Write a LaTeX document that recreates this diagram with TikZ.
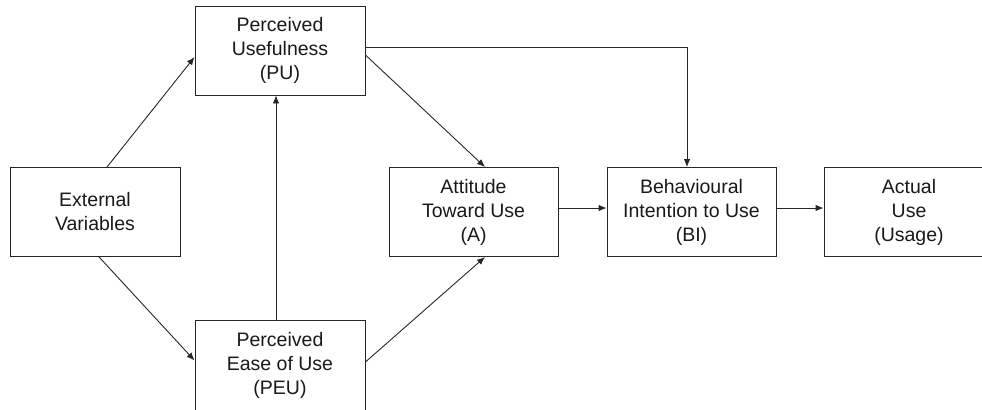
\documentclass[tikz,border=0pt]{standalone}
\usepackage{fontspec}
\setmainfont{Liberation Sans}
\usetikzlibrary{arrows.meta,positioning}

\begin{document}
\begin{tikzpicture}[
		x=1bp,y=-1bp,
		box/.style={draw=black!85,line width=0.9bp,minimum width=170bp,minimum height=89bp,align=center,
			text=black!90,font=\fontsize{19.5bp}{24bp}\selectfont},
		arr/.style={-{Latex[length=8bp,width=6.5bp]},draw=black!85,line width=0.9bp}
		]
		\useasboundingbox (0,0) rectangle (982,409);
		
		% --- Boxes
		\node[box] (ev) at (95,212) {External\\Variables};
		\node[box] (pu) at (280,50.5) {Perceived\\Usefulness\\(PU)};
		\node[box,minimum height=90bp] (peu) at (280,365) {Perceived\\Ease of Use\\(PEU)};
		\node[box,minimum width=169bp] (att) at (473.5,212) {Attitude\\Toward Use\\(A)};
		\node[box,minimum width=169bp] (bi) at (691.5,212) {Behavioural\\Intention to Use\\(BI)};
		\node[box] (use) at (909,212) {Actual\\Use\\(Usage)};
		
		% --- Connectors
		\draw[arr] ([xshift=12bp]ev.north) -- ([yshift=-6.5bp]pu.west);
		\draw[arr] ([xshift=4bp]ev.south) -- ([yshift=4.5bp]peu.west);
		\draw[arr] ([xshift=-4bp]peu.north) -- ([xshift=-4bp]pu.south);
		\draw[arr] ([yshift=-4.5bp]pu.east) -- ([xshift=11.5bp]att.north);
		\draw[arr] ([yshift=3bp]peu.east) -- ([xshift=11.5bp]att.south);
		\draw[arr] ([yshift=3.5bp]pu.east) -| ([xshift=-4.5bp]bi.north);
		\draw[arr] ([yshift=4bp]att.east) -- ([yshift=4bp]bi.west);
		\draw[arr] ([yshift=4bp]bi.east) -- ([yshift=4bp]use.west);
		
	\end{tikzpicture}
\end{document}
